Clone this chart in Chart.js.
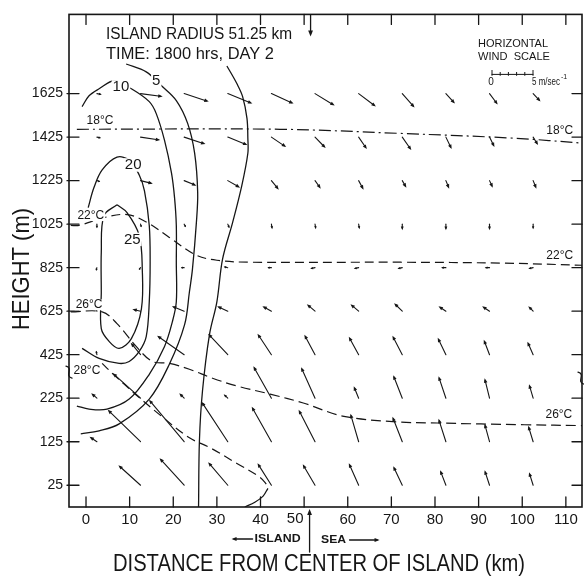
<!DOCTYPE html>
<html>
<head>
<meta charset="utf-8">
<script src="https://cdn.jsdelivr.net/npm/chart.js@4.4.0/dist/chart.umd.min.js"></script>
<style>
  html, body { margin: 0; padding: 0; background: #fff; }
</style>
</head>
<body>
<canvas id="seaBreezeChart" width="584" height="580"></canvas>
<script>
// axis ticks
const distTicks = [0, 10, 20, 30, 40, 50, 60, 70, 80, 90, 100, 110];           // km
const heightTicks = [25, 125, 225, 425, 625, 825, 1025, 1225, 1425, 1625];   // m (axis broken above 225)
const islandRadius = 51.25;                                                   // km

// wind grid (tail of each arrow sits on a grid point)
const gridX = [2.5, 12.5, 22.5, 32.5, 42.5, 52.5, 62.5, 72.5, 82.5, 92.5, 102.5];
const gridH = [1625, 1425, 1225, 1025, 825, 625, 425, 225, 125, 25];

// horizontal wind u (m/s), one row per height in gridH
const windU = [
  [0.6, 2.7, 3.0, 3.0, 2.7, 2.4, 2.1, 1.5, 1.1, 1.0, 0.9],
  [0.5, 2.4, 2.6, 2.4, 1.8, 1.3, 1.0, 1.1, 0.7, 0.6, 0.6],
  [0.4, 1.5, 1.5, 1.5, 0.9, 0.7, 0.6, 0.5, 0.4, 0.4, 0.4],
  [0.0, 0.1, 0.2, 0.2, 0.1, 0.1, 0.1, 0.0, 0.0, 0.0, 0.0],
  [-0.1, -0.2, -0.4, -0.5, -0.5, -0.6, -0.6, -0.6, -0.6, -0.6, -0.6],
  [-0.1, -1.0, -1.5, -1.3, -1.1, -1.0, -1.0, -1.0, -0.9, -0.9, -0.6],
  [-0.1, -1.2, -3.3, -2.4, -1.7, -1.3, -1.2, -1.2, -1.0, -0.7, -0.7],
  [-0.7, -3.4, -0.6, -0.5, -2.2, -1.7, -0.6, -1.1, -0.9, -0.6, -0.5],
  [-0.9, -4.0, -4.3, -3.2, -2.4, -2.0, -1.0, -1.2, -0.9, -0.6, -0.6],
  [0.0, -2.7, -3.0, -2.4, -1.7, -1.5, -1.2, -1.1, -0.7, -0.6, -0.5],
];
// vertical wind w (cm/s), same layout
const windW = [
  [-1, -3, -8, -10, -10, -12, -13, -14, -10, -11, -8],
  [-1, -3, -7, -8, -10, -11, -12, -13, -12, -10, -8],
  [-1, -3, -5, -7, -9, -8, -9, -7, -8, -7, -8],
  [-4, -3, -3, -4, -5, -5, -5, -6, -6, -6, -5],
  [-3, -2, 0, 1, 0, -1, -1, -1, 0, 0, -1],
  [2, 2, 5, 5, 5, 7, 7, 8, 5, 5, 5],
  [4, 12, 19, 21, 21, 20, 18, 19, 17, 15, 13],
  [5, 25, 5, 4, 32, 31, 12, 23, 22, 20, 14],
  [5, 32, 42, 40, 35, 32, 28, 25, 23, 18, 16],
  [0, 20, 27, 23, 22, 21, 22, 19, 15, 15, 13],
];

// contour lines [km, m]
const contour25 = [[7.1, 1114], [9.4, 1078], [12.2, 973], [12.9, 818], [12.7, 636], [10.4, 499], [7.6, 454],
  [5.3, 486], [3.5, 545], [3.5, 713], [3.5, 896], [4.1, 1064], [7.1, 1114]];
const contour20 = [[0.5, 1101], [1.8, 1192], [3.7, 1274], [7.1, 1333], [10.0, 1318], [12.2, 1251], [13.4, 1178],
  [14.5, 1019], [14.7, 850], [14.5, 668], [13.8, 508], [12.2, 440], [9.9, 394], [7.6, 385], [3.0, 408], [-0.9, 454]];
const contour10 = [[-0.9, 1565], [0.7, 1615], [3.0, 1647], [6.5, 1684], [10.4, 1647], [14.5, 1588], [16.1, 1533],
  [18.0, 1410], [19.6, 1260], [20.3, 1146], [20.7, 1019], [20.7, 850], [20.7, 668], [19.8, 577], [18.0, 463],
  [14.5, 335], [9.9, 223], [4.8, 200], [0.7, 200], [-2.1, 207]];
const contour5 = [[9.2, 1761], [13.8, 1725], [17.3, 1661], [20.7, 1593], [23.3, 1488], [24.9, 1351], [25.6, 1169],
  [25.3, 1032], [24.4, 818], [23.7, 713], [22.6, 563], [19.1, 381], [14.5, 223], [7.6, 166], [3.0, 150], [-1.2, 143]];
const contour0 = [[32.3, 1752], [34.6, 1670], [35.9, 1611], [36.9, 1511], [37.1, 1420], [37.1, 1351], [35.7, 1201],
  [33.6, 1032], [31.3, 864], [30.0, 668], [28.3, 517], [26.7, 258], [26.0, 128], [25.8, -25]];
const contourFoot = [[36.4, -25], [38.7, -14], [40.6, 0], [41.7, 18]];

// isotherms [km, m]
const iso18 = [[-2.1, 1461], [44.5, 1461], [72.1, 1442], [98.2, 1420], [114, 1397]];
const iso22 = [[-3.5, 1019], [-1.6, 1019], [4.1, 1055], [9.4, 1069], [14.1, 1032], [19.1, 964], [25.3, 882],
  [30.0, 859], [37.6, 850], [72.1, 850], [95.2, 846], [114, 836]];
const iso26 = [[-3.5, 622], [3.7, 622], [7.1, 568], [11.5, 463], [15.2, 394], [19.1, 385], [23.7, 358], [29.0, 317],
  [34.6, 281], [42.2, 244], [49.8, 214], [58.8, 184], [70.3, 171], [80.6, 168], [100.5, 164], [114, 162]];
const iso28 = [[3.7, 385], [6.0, 340], [11.5, 240], [17.5, 182], [23.7, 134], [28.3, 112], [34.6, 75], [39.9, 43], [41.7, 23]];

const FONT = "'Liberation Sans', Arial, sans-serif";
const INK = '#161616';
const PX_PER_MS = 8.2;   // 5 m/s -> 41 px, as the scale bar
const PX_PER_CMS = 1.0;

// broken height axis: 100 m per step below 225 m, 200 m per step above
function hIdx(h) {
  return h <= 225 ? (h - 25) / 100 : 2 + (h - 225) / 200;
}

function lineSet(pts, dash, width) {
  return {
    data: pts.map(([x, h]) => ({ x: x, y: hIdx(h) })),
    showLine: true,
    borderColor: INK,
    borderWidth: width || 1.3,
    borderDash: dash || [],
    pointRadius: 0,
    tension: 0.35,
    fill: false,
  };
}

function txt(ctx, text, x, y, size, opt) {
  opt = opt || {};
  ctx.save();
  ctx.font = (opt.weight || 'normal') + ' ' + size + 'px ' + FONT;
  ctx.fillStyle = INK;
  ctx.textAlign = opt.align || 'center';
  ctx.textBaseline = 'middle';
  const w = ctx.measureText(text).width;
  ctx.translate(x, y);
  if (opt.rotate) ctx.rotate(opt.rotate);
  if (opt.width) ctx.scale(opt.width / w, 1);
  if (opt.box) {
    ctx.fillStyle = '#fff';
    const bw = w + 2;
    const bx = ctx.textAlign === 'left' ? -1 : -bw / 2;
    ctx.fillRect(bx, -size * 0.45, bw, size * 0.9);
    ctx.fillStyle = INK;
  }
  ctx.fillText(text, 0, 0);
  ctx.restore();
}

function arrow(ctx, x0, y0, x1, y1, head) {
  const dx = x1 - x0, dy = y1 - y0, len = Math.hypot(dx, dy);
  if (len < 0.6) return;
  const ux = dx / len, uy = dy / len;
  const hl = Math.min(head, len * 0.6), hw = Math.max(hl * 0.4, 1.2);
  ctx.beginPath();
  ctx.moveTo(x0, y0);
  ctx.lineTo(x1 - ux * hl * 0.5, y1 - uy * hl * 0.5);
  ctx.stroke();
  ctx.beginPath();
  ctx.moveTo(x1, y1);
  ctx.lineTo(x1 - ux * hl - uy * hw, y1 - uy * hl + ux * hw);
  ctx.lineTo(x1 - ux * hl + uy * hw, y1 - uy * hl - ux * hw);
  ctx.closePath();
  ctx.fill();
}

function squiggle(ctx, x, y) {
  ctx.beginPath();
  ctx.moveTo(x - 3, y - 6);
  ctx.bezierCurveTo(x + 5, y - 4, x - 5, y + 4, x + 3, y + 6);
  ctx.stroke();
}

const figurePlugin = {
  id: 'figure',
  afterDatasetsDraw(chart) {
    const ctx = chart.ctx;
    const xs = chart.scales.x, ys = chart.scales.y;
    const a = chart.chartArea;
    const P = (km, h) => [xs.getPixelForValue(km), ys.getPixelForValue(hIdx(h))];
    ctx.save();
    ctx.strokeStyle = INK;
    ctx.fillStyle = INK;
    ctx.lineCap = 'round';

    // wind vectors
    ctx.lineWidth = 1.1;
    gridH.forEach((h, i) => {
      gridX.forEach((km, j) => {
        const [x0, y0] = P(km, h);
        arrow(ctx, x0, y0, x0 + windU[i][j] * PX_PER_MS, y0 - windW[i][j] * PX_PER_CMS, 4.5);
      });
    });

    // frame and inward ticks
    ctx.lineWidth = 1.6;
    ctx.strokeRect(a.left, a.top, a.right - a.left, a.bottom - a.top);
    ctx.lineWidth = 1.3;
    distTicks.forEach(v => {
      const x = xs.getPixelForValue(v);
      ctx.beginPath();
      ctx.moveTo(x, a.bottom); ctx.lineTo(x, a.bottom - 10);
      ctx.moveTo(x, a.top); ctx.lineTo(x, a.top + 10);
      ctx.stroke();
    });
    heightTicks.forEach((h, i) => {
      const y = ys.getPixelForValue(i);
      ctx.beginPath();
      ctx.moveTo(a.left - 2, y); ctx.lineTo(a.left + 10, y);
      ctx.moveTo(a.right, y); ctx.lineTo(a.right - 10, y);
      ctx.stroke();
    });
    // axis break marks
    const yb = ys.getPixelForValue(2.6);
    squiggle(ctx, a.left, yb);
    squiggle(ctx, a.right - 1, yb + 6);

    // contour and isotherm labels
    txt(ctx, '5', ...P(16.1, 1684), 15, { box: true });
    txt(ctx, '10', ...P(8.0, 1656), 15, { box: true });
    txt(ctx, '20', ...P(10.8, 1297), 15, { box: true });
    txt(ctx, '25', ...P(10.6, 955), 15, { box: true });
    txt(ctx, '18°C', ...P(3.2, 1502), 12);
    txt(ctx, '18°C', ...P(108.6, 1456), 12, { box: true });
    txt(ctx, '22°C', ...P(1.1, 1064), 12, { box: true });
    txt(ctx, '22°C', ...P(108.6, 882), 12, { box: true });
    txt(ctx, '26°C', ...P(0.7, 654), 12, { box: true });
    txt(ctx, '26°C', ...P(108.4, 187), 12, { box: true });
    txt(ctx, '28°C', ...P(0.2, 353), 12, { box: true });

    // run header
    txt(ctx, 'ISLAND RADIUS 51.25 km', a.left + 37, a.top + 20, 16, { align: 'left', width: 186 });
    txt(ctx, 'TIME: 1800 hrs, DAY 2', a.left + 37, a.top + 40, 16, { align: 'left', width: 168 });

    // wind scale
    const sx = a.right - 90, sy = a.top + 60;
    txt(ctx, 'HORIZONTAL', sx - 14, a.top + 30, 11, { align: 'left', width: 70 });
    txt(ctx, 'WIND  SCALE', sx - 14, a.top + 43, 11, { align: 'left', width: 72 });
    ctx.lineWidth = 1;
    ctx.beginPath();
    ctx.moveTo(sx, sy); ctx.lineTo(sx + 5 * PX_PER_MS, sy);
    for (let k = 0; k <= 5; k++) {
      const t = (k === 0 || k === 5) ? 4 : 2;
      ctx.moveTo(sx + k * PX_PER_MS, sy - t); ctx.lineTo(sx + k * PX_PER_MS, sy + 1);
    }
    ctx.stroke();
    txt(ctx, '0', sx - 1, sy + 8, 10);
    txt(ctx, '5 m/sec', sx + 5 * PX_PER_MS - 1, sy + 8, 10, { align: 'left', width: 28 });
    txt(ctx, '-1', sx + 5 * PX_PER_MS + 28, sy + 3, 7, { align: 'left' });

    // island edge markers
    const xi = xs.getPixelForValue(islandRadius);
    ctx.lineWidth = 1.3;
    arrow(ctx, xi + 1, a.top + 1, xi + 1, a.top + 22, 6);
    arrow(ctx, xi, a.bottom + 45, xi, a.bottom + 2, 6);
    arrow(ctx, xi - 57, a.bottom + 32, xi - 78, a.bottom + 32, 5);
    arrow(ctx, xi + 40, a.bottom + 33, xi + 70, a.bottom + 33, 5);
    txt(ctx, 'ISLAND', xi - 32, a.bottom + 32, 11, { weight: 'bold', width: 46 });
    txt(ctx, 'SEA', xi + 24, a.bottom + 33, 11, { weight: 'bold', width: 25 });
    txt(ctx, '50', xs.getPixelForValue(50) - 9, a.bottom + 12, 15);

    // axis titles
    txt(ctx, 'DISTANCE FROM CENTER OF ISLAND (km)', 319, 564, 24, { width: 412 });
    txt(ctx, 'HEIGHT (m)', 22, 269, 24, { width: 122, rotate: -Math.PI / 2 });
    ctx.restore();
  },
};

const datasets = [
  lineSet(contour25), lineSet(contour20), lineSet(contour10), lineSet(contour5),
  lineSet(contour0), lineSet(contourFoot),
  lineSet(iso18, [12, 4, 2, 4], 1.2), lineSet(iso22, [9, 5], 1.2),
  lineSet(iso26, [10, 5], 1.2), lineSet(iso28, [9, 5], 1.2),
];

new Chart(document.getElementById('seaBreezeChart'), {
  type: 'scatter',
  data: { datasets: datasets },
  options: {
    responsive: false,
    animation: false,
    layout: { padding: { top: 10, right: 2, left: 0, bottom: 0 } },
    plugins: { legend: { display: false }, tooltip: { enabled: false } },
    scales: {
      x: {
        type: 'linear', min: -3.9, max: 113.7,
        afterBuildTicks: s => { s.ticks = distTicks.map(v => ({ value: v })); },
        afterFit: s => { s.height = 73; },
        grid: { display: false, drawTicks: false },
        border: { display: false },
        ticks: {
          color: INK, font: { family: FONT, size: 15 }, padding: 4,
          maxRotation: 0, autoSkip: false,
          callback: v => (v === 50 ? '' : String(v)),
        },
      },
      y: {
        type: 'linear', min: -0.5, max: 10.82,
        afterBuildTicks: s => { s.ticks = heightTicks.map((h, i) => ({ value: i })); },
        afterFit: s => { s.width = 69; },
        grid: { display: false, drawTicks: false },
        border: { display: false },
        ticks: {
          color: INK, font: { family: FONT, size: 14 }, padding: 6,
          autoSkip: false,
          callback: v => (heightTicks[v] !== undefined ? String(heightTicks[v]) : ''),
        },
      },
    },
  },
  plugins: [figurePlugin],
});
</script>
</body>
</html>
